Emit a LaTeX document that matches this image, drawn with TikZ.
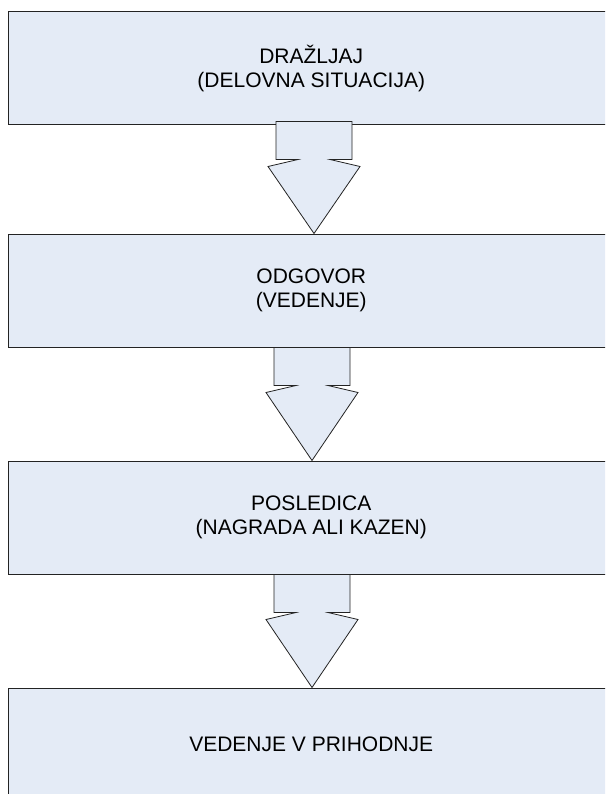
\documentclass[tikz,border=0pt]{standalone}
\usepackage{fontspec}
\setmainfont{Liberation Sans}
\usetikzlibrary{calc}
\definecolor{boxfill}{RGB}{228,235,246}
\definecolor{boxline}{RGB}{35,35,35}
\newcommand\drawfatarrow[2]{%
  \draw[fat] ($(#1)+(-38,0)$) -- ($(#1)+(-38,38)$) -- ($(#1)+(-16,38)$) -- ($(#1)+(-46,45)$)
    -- (#2) -- ($(#1)+(46,45)$) -- ($(#1)+(16,38)$) -- ($(#1)+(38,38)$) -- ($(#1)+(38,0)$) -- cycle;}
\begin{document}
\begin{tikzpicture}[x=1pt,y=-1pt,
  box/.style={draw=boxline, fill=boxfill, line width=1pt, minimum width=605.5pt,
    minimum height=113pt, inner sep=0pt, align=center,
    font=\fontsize{21}{24.5}\selectfont},
  fat/.style={draw=boxline, fill=boxfill, line width=0.8pt, line join=miter}]
\useasboundingbox (0,0) rectangle (605,794);
\begin{scope}
\clip (0,0) rectangle (605,794);
\node[box] (b1) at (311.25,68.5) {DRAŽLJAJ\\(DELOVNA SITUACIJA)};
\node[box] (b2) at (311.25,290.5) {ODGOVOR\\(VEDENJE)};
\node[box] (b3) at (311.25,517.5) {POSLEDICA\\(NAGRADA ALI KAZEN)};
\node[box] (b4) at (311.25,744.5) {VEDENJE V PRIHODNJE};
\coordinate (s1) at ($(b1.south)+(2.75,-4)$);
\coordinate (t1) at (s1 |- b2.north);
\coordinate (s2) at ($(b2.south)+(0.75,0)$);
\coordinate (t2) at (s2 |- b3.north);
\coordinate (s3) at ($(b3.south)+(0.75,0)$);
\coordinate (t3) at (s3 |- b4.north);
\drawfatarrow{s1}{t1}
\drawfatarrow{s2}{t2}
\drawfatarrow{s3}{t3}
\end{scope}
\end{tikzpicture}
\end{document}
